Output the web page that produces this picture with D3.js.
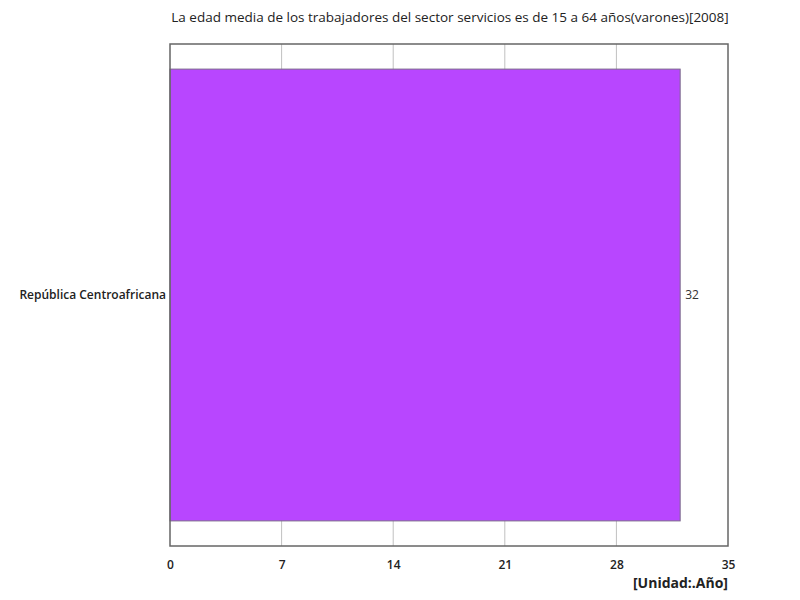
<!DOCTYPE html>
<html>
<head>
<meta charset="utf-8">
<script src="https://cdn.jsdelivr.net/npm/d3@7"></script>
<style>
  body { margin: 0; background: #fff; }
  text { font-family: "Open Sans", "Noto Sans", sans-serif; }
</style>
</head>
<body>
<svg width="800" height="600"></svg>
<script>
// chart data
const categories = ['República Centroafricana'];
const values = [32];
const tickValues = [0, 7, 14, 21, 28, 35];
const title = 'La edad media de los trabajadores del sector servicios es de 15 a 64 años(varones)[2008]';
const unitLabel = '[Unidad:.Año]';

const margin = { top: 44, right: 72, bottom: 54, left: 170 };
const width = 800, height = 600;

const svg = d3.select('svg');

let x = d3.scaleLinear().domain([0, 35]).range([margin.left, width - margin.right]);
let y = d3.scaleBand()
    .domain(categories)
    .range([margin.top, height - margin.bottom])
    .paddingInner(0.1)
    .paddingOuter(0.05);

// vertical grid lines
svg.append('g')
  .selectAll('line')
  .data(tickValues.slice(1, -1))
  .join('line')
    .attr('x1', d => x(d)).attr('x2', d => x(d))
    .attr('y1', margin.top).attr('y2', height - margin.bottom)
    .attr('stroke', '#c0c0c0')
    .attr('stroke-width', 1);

// bars
svg.append('g')
  .selectAll('rect')
  .data(values)
  .join('rect')
    .attr('x', x(0))
    .attr('y', (d, i) => y(categories[i]))
    .attr('width', d => x(d) - x(0))
    .attr('height', y.bandwidth())
    .attr('fill', '#b846ff')
    .attr('stroke', '#7a6a8a')
    .attr('stroke-width', 1);

// value labels
svg.append('g')
  .selectAll('text')
  .data(values)
  .join('text')
    .attr('x', d => x(d) + 5)
    .attr('y', (d, i) => y(categories[i]) + y.bandwidth() / 2)
    .attr('dy', '0.35em')
    .attr('font-size', 12)
    .attr('fill', '#333')
    .text(d => d);

// plot frame
svg.append('rect')
  .attr('x', margin.left)
  .attr('y', margin.top)
  .attr('width', width - margin.left - margin.right)
  .attr('height', height - margin.top - margin.bottom)
  .attr('fill', 'none')
  .attr('stroke', '#666')
  .attr('stroke-width', 1.5);

// x axis
const xAxis = svg.append('g')
  .attr('transform', `translate(0,${height - margin.bottom})`)
  .call(d3.axisBottom(x).tickValues(tickValues).tickSize(0).tickPadding(14));
xAxis.select('.domain').remove();
xAxis.selectAll('text')
  .attr('font-size', 12)
  .attr('font-weight', 600)
  .attr('fill', '#222')
  .style('font-family', '"Open Sans", sans-serif');

// y axis labels
const yAxis = svg.append('g')
  .attr('transform', `translate(${margin.left},0)`)
  .call(d3.axisLeft(y).tickSize(0).tickPadding(4));
yAxis.select('.domain').remove();
yAxis.selectAll('text')
  .attr('font-size', 12)
  .attr('font-weight', 600)
  .attr('fill', '#222')
  .style('font-family', '"Open Sans", sans-serif');

// title
svg.append('text')
  .attr('x', 450)
  .attr('y', 22)
  .attr('text-anchor', 'middle')
  .attr('font-size', 13.5)
  .attr('fill', '#222')
  .text(title);

// unit label
svg.append('text')
  .attr('x', width - margin.right)
  .attr('y', 588)
  .attr('text-anchor', 'end')
  .attr('font-size', 14)
  .attr('font-weight', 'bold')
  .attr('fill', '#222')
  .text(unitLabel);
</script>
</body>
</html>
